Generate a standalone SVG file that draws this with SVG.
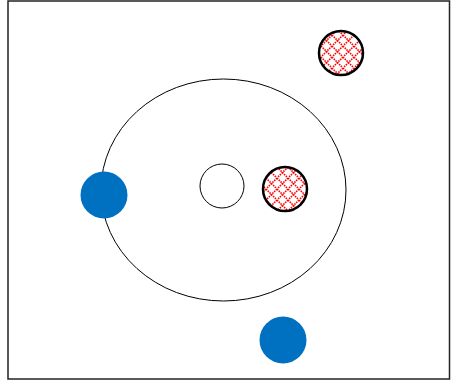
<svg xmlns="http://www.w3.org/2000/svg" width="454" height="382" viewBox="0 0 454 382">
<defs>
<pattern id="hatch" patternUnits="userSpaceOnUse" x="2" y="2" width="11" height="11">
<path d="M0,0 L11,11 M11,0 L0,11" stroke="#ff0000" stroke-width="1.6" stroke-dasharray="1.5,1" fill="none"/>
</pattern>
</defs>
<style>
.frame{fill:#fff;stroke:#222;stroke-width:1.5}
.outline{fill:none;stroke:#000;stroke-width:1}
.hollow{fill:#fff;stroke:#000;stroke-width:1}
.hatched{fill:url(#hatch);stroke:#000;stroke-width:2.5}
.blue{fill:#0070C0;stroke:none}
</style>
<rect class="frame" x="8" y="1" width="441.5" height="378"/>
<g id="ring"><ellipse class="outline" cx="223.5" cy="190" rx="122.5" ry="111"/></g>
<g id="center"><circle class="hollow" cx="222" cy="186" r="22"/></g>
<g id="hatch-inner"><circle fill="#fff" cx="285" cy="189" r="22"/><circle class="hatched" cx="285" cy="189" r="22"/></g>
<g id="hatch-outer"><circle fill="#fff" cx="341" cy="53" r="22"/><circle class="hatched" cx="341" cy="53" r="22"/></g>
<g id="blue-left"><circle class="blue" cx="104" cy="195" r="23.5"/></g>
<g id="blue-bottom"><circle class="blue" cx="283" cy="340" r="23.5"/></g>
<g id="connectors"></g>
</svg>
